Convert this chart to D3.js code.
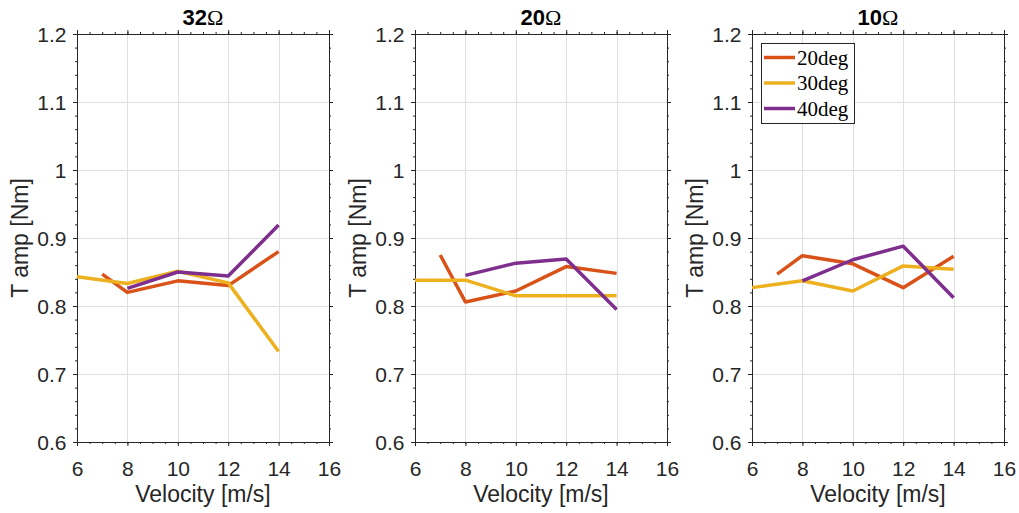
<!DOCTYPE html>
<html>
<head>
<meta charset="utf-8">
<script src="https://cdn.jsdelivr.net/npm/d3@7"></script>
<style>
  body { margin: 0; background: #fff; }
  svg { display: block; }
</style>
</head>
<body>
<div id="chart-area"></div>
<script>
// data
var panelTitles = ["32", "20", "10"];
var seriesNames = ["20deg", "30deg", "40deg"];
var seriesColors = ["#D95319", "#EDB120", "#7E2F8E"];

var vel20 = [7, 8, 10, 12, 14];
var vel30 = [6, 8, 10, 12, 14];
var vel40 = [8, 10, 12, 14];

var amp32_20 = [0.847, 0.820, 0.837, 0.830, 0.880];
var amp32_30 = [0.843, 0.833, 0.851, 0.834, 0.733];
var amp32_40 = [0.826, 0.850, 0.844, 0.919];

var amp20_20 = [0.875, 0.806, 0.822, 0.858, 0.848];
var amp20_30 = [0.838, 0.838, 0.815, 0.815, 0.815];
var amp20_40 = [0.845, 0.863, 0.869, 0.795];

var amp10_20 = [0.847, 0.874, 0.862, 0.827, 0.873];
var amp10_30 = [0.827, 0.837, 0.822, 0.859, 0.854];
var amp10_40 = [0.837, 0.868, 0.888, 0.812];

var xTicks = [6, 8, 10, 12, 14, 16];
var yTicks = [0.6, 0.7, 0.8, 0.9, 1, 1.1, 1.2];

var panels = [
  [[vel20, amp32_20], [vel30, amp32_30], [vel40, amp32_40]],
  [[vel20, amp20_20], [vel30, amp20_30], [vel40, amp20_40]],
  [[vel20, amp10_20], [vel30, amp10_30], [vel40, amp10_40]]
];

var W = 1019, H = 513;
var lefts = [77, 415, 752],
    marginTop = 34,
    width = 252,
    height = 408;

var axisColor = "#262626",
    sansFont = "'Liberation Sans', Arial, sans-serif",
    serifFont = "'Liberation Serif', 'Times New Roman', serif";

var svg = d3.select("#chart-area")
  .append("svg")
    .attr("width", W)
    .attr("height", H);

var x = d3.scaleLinear().domain([6, 16]).range([0, width]);
var y = d3.scaleLinear().domain([0.6, 1.2]).range([height, 0]);

var minorX = d3.range(6, 16.001, 0.5);
var minorY = d3.range(0.6, 1.2001, 0.02);

var line = d3.line()
  .x(function(d) { return x(d[0]); })
  .y(function(d) { return y(d[1]); });

panels.forEach(function(series, p) {
  var g = svg.append("g")
    .attr("transform", "translate(" + lefts[p] + "," + marginTop + ")");

  // grid
  g.append("g").selectAll("line")
    .data(xTicks.slice(1, -1))
    .enter().append("line")
      .attr("x1", function(d) { return Math.round(x(d)) + 0.5; })
      .attr("x2", function(d) { return Math.round(x(d)) + 0.5; })
      .attr("y1", 0).attr("y2", height)
      .attr("stroke", "#dfdfdf");
  g.append("g").selectAll("line")
    .data(yTicks.slice(1, -1))
    .enter().append("line")
      .attr("y1", function(d) { return Math.round(y(d)) + 0.5; })
      .attr("y2", function(d) { return Math.round(y(d)) + 0.5; })
      .attr("x1", 0).attr("x2", width)
      .attr("stroke", "#dfdfdf");

  // minor ticks on all four sides
  g.append("g").attr("transform", "translate(0," + height + ")")
    .call(d3.axisBottom(x).tickValues(minorX).tickSize(2).tickFormat(""));
  g.append("g")
    .call(d3.axisTop(x).tickValues(minorX).tickSize(2).tickFormat(""));
  g.append("g")
    .call(d3.axisLeft(y).tickValues(minorY).tickSize(2).tickFormat(""));
  g.append("g").attr("transform", "translate(" + width + ",0)")
    .call(d3.axisRight(y).tickValues(minorY).tickSize(2).tickFormat(""));

  // major ticks
  var xb = g.append("g").attr("transform", "translate(0," + height + ")")
    .call(d3.axisBottom(x).tickValues(xTicks).tickSize(4).tickFormat(d3.format("d")));
  xb.selectAll("text")
    .attr("y", 33.5).attr("dy", null);
  g.append("g")
    .call(d3.axisTop(x).tickValues(xTicks).tickSize(4).tickFormat(""));
  var yl = g.append("g")
    .call(d3.axisLeft(y).tickValues(yTicks).tickSize(4)
      .tickFormat(function(d) { return d === 1 ? "1" : d3.format(".1f")(d); }));
  yl.selectAll("text").attr("x", -10.5).attr("dy", "0.36em");
  g.append("g").attr("transform", "translate(" + width + ",0)")
    .call(d3.axisRight(y).tickValues(yTicks).tickSize(4).tickFormat(""));

  g.selectAll(".domain").attr("stroke", axisColor);
  g.selectAll(".tick line").attr("stroke", axisColor);
  g.selectAll(".tick text")
    .attr("fill", axisColor)
    .style("font-family", sansFont)
    .style("font-size", "21px");

  // lines
  series.forEach(function(s, i) {
    var pts = s[0].map(function(v, k) { return [v, s[1][k]]; });
    g.append("path")
      .datum(pts)
      .attr("fill", "none")
      .attr("stroke", seriesColors[i])
      .attr("stroke-width", 3.5)
      .attr("stroke-linejoin", "round")
      .attr("d", line);
  });

  // title
  var t = g.append("text")
    .attr("x", width / 2)
    .attr("y", -9)
    .attr("text-anchor", "middle")
    .style("font-family", sansFont)
    .style("font-size", "22px")
    .style("font-weight", "bold")
    .attr("fill", "#000");
  t.append("tspan").text(panelTitles[p]);
  t.append("tspan").style("font-family", serifFont).style("font-weight", "normal").text("\u03A9");

  // axis labels
  g.append("text")
    .attr("x", width / 2)
    .attr("y", height + 60)
    .attr("text-anchor", "middle")
    .style("font-family", sansFont)
    .style("font-size", "23px")
    .attr("fill", axisColor)
    .text("Velocity [m/s]");

  g.append("text")
    .attr("transform", "translate(-49," + (height / 2) + ") rotate(-90)")
    .attr("text-anchor", "middle")
    .style("font-family", sansFont)
    .style("font-size", "23px")
    .attr("fill", axisColor)
    .text("T amp [Nm]");

  // legend only on last panel
  if (p === 2) {
    var lg = g.append("g").attr("transform", "translate(9,9)");
    lg.append("rect")
      .attr("x", 0.5).attr("y", 0.5)
      .attr("width", 93).attr("height", 80)
      .attr("fill", "#fff")
      .attr("stroke", axisColor);
    seriesNames.forEach(function(name, i) {
      var ry = 14.5 + i * 25.5;
      lg.append("line")
        .attr("x1", 3).attr("x2", 34)
        .attr("y1", ry).attr("y2", ry)
        .attr("stroke", seriesColors[i])
        .attr("stroke-width", 3.5);
      lg.append("text")
        .attr("x", 36)
        .attr("y", ry + 7)
        .style("font-family", serifFont)
        .style("font-size", "21px")
        .attr("fill", "#000")
        .text(name);
    });
  }
});
</script>
</body>
</html>
